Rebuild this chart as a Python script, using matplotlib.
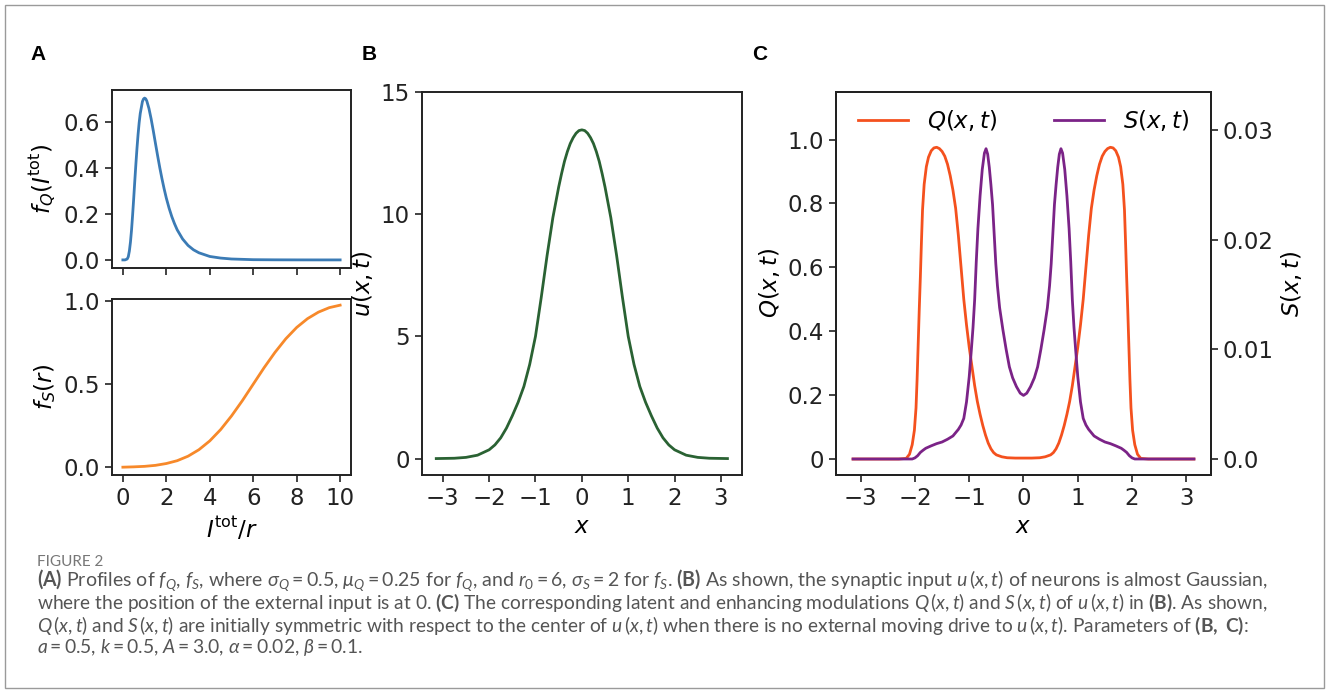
import numpy as np
import matplotlib.pyplot as plt
from matplotlib.patches import Rectangle

# ---- data ----
# (A) top: f_Q(I_tot)
fq_x = [0, 0.1, 0.2, 0.25, 0.3, 0.35, 0.4, 0.45, 0.5, 0.55, 0.6, 0.65, 0.7, 0.75, 0.8,
        0.9, 0.95, 1.0, 1.05, 1.1, 1.2, 1.3, 1.4, 1.5, 1.6, 1.7, 1.8, 1.9, 2.0, 2.125,
        2.25, 2.375, 2.5, 2.75, 3.0, 3.25, 3.5, 4.0, 4.5, 5.0, 6.0, 7.0, 8.0, 9.0, 10.0]
fq_y = [0.0, 0.0, 0.004, 0.014, 0.039, 0.078, 0.131, 0.197, 0.269, 0.345, 0.418, 0.486,
        0.546, 0.597, 0.637, 0.689, 0.700, 0.704, 0.701, 0.692, 0.659, 0.614, 0.562,
        0.507, 0.453, 0.401, 0.353, 0.309, 0.269, 0.226, 0.189, 0.158, 0.131, 0.091,
        0.063, 0.044, 0.031, 0.015, 0.008, 0.004, 0.001, 0.0004, 0.0001, 0.0, 0.0]

# (A) bottom: f_S(r)
fs_x = [0, 0.5, 1, 1.5, 2, 2.5, 3, 3.5, 4, 4.5, 5, 5.5, 6, 6.5, 7, 7.5, 8, 8.5, 9, 9.5, 10]
fs_y = [0.001, 0.003, 0.006, 0.012, 0.023, 0.040, 0.067, 0.106, 0.159, 0.227, 0.309,
        0.401, 0.500, 0.599, 0.691, 0.773, 0.841, 0.894, 0.933, 0.960, 0.975]

# (B) u(x, t)
u_x = [-3.14, -2.75, -2.5, -2.25, -2.0, -1.875, -1.75, -1.625, -1.5, -1.375, -1.25, -1.125,
       -1.0, -0.875, -0.75, -0.625, -0.5, -0.4375, -0.375, -0.3125, -0.25, -0.1875, -0.125,
       -0.0625, 0.0, 0.0625, 0.125, 0.1875, 0.25, 0.3125, 0.375, 0.4375, 0.5, 0.625, 0.75,
       0.875, 1.0, 1.125, 1.25, 1.375, 1.5, 1.625, 1.75, 1.875, 2.0, 2.25, 2.5, 2.75, 3.14]
u_y = [0.002, 0.015, 0.05, 0.14, 0.36, 0.56, 0.85, 1.25, 1.75, 2.3, 2.95, 3.85,
       5.0, 6.6, 8.3, 9.85, 11.1, 11.65, 12.15, 12.55, 12.88, 13.12, 13.3,
       13.41, 13.44, 13.41, 13.3, 13.12, 12.88, 12.55, 12.15, 11.65, 11.1, 9.85, 8.3,
       6.6, 5.0, 3.85, 2.95, 2.3, 1.75, 1.25, 0.85, 0.56, 0.36, 0.14, 0.05, 0.015, 0.002]

# (C) Q(x, t)
q_x = [-3.14, -2.6, -2.3, -2.16, -2.10, -2.05, -2.01, -1.98, -1.96, -1.94, -1.92, -1.90,
       -1.88, -1.86, -1.83, -1.79, -1.75, -1.70, -1.65, -1.60, -1.55, -1.50, -1.45, -1.40,
       -1.35, -1.30, -1.25, -1.20, -1.15, -1.10, -1.05, -1.00, -0.95, -0.90, -0.85, -0.80,
       -0.75, -0.70, -0.65, -0.60, -0.55, -0.50, -0.40, -0.30, -0.15, 0.0,
       0.15, 0.30, 0.40, 0.50, 0.55, 0.60, 0.65, 0.70, 0.75, 0.80, 0.85, 0.90, 0.95, 1.00,
       1.05, 1.10, 1.15, 1.20, 1.25, 1.30, 1.35, 1.40, 1.45, 1.50, 1.55, 1.60, 1.65, 1.70,
       1.75, 1.79, 1.83, 1.86, 1.88, 1.90, 1.92, 1.94, 1.96, 1.98, 2.01, 2.05, 2.10, 2.16,
       2.3, 2.6, 3.14]
q_y = [0.0, 0.0, 0.0, 0.002, 0.015, 0.045, 0.09, 0.16, 0.25, 0.36, 0.47, 0.57,
       0.68, 0.78, 0.86, 0.915, 0.945, 0.965, 0.974, 0.976, 0.972, 0.963, 0.948, 0.923,
       0.887, 0.842, 0.785, 0.70, 0.60, 0.50, 0.42, 0.35, 0.29, 0.23, 0.18, 0.14,
       0.105, 0.075, 0.05, 0.032, 0.02, 0.013, 0.007, 0.004, 0.003, 0.003,
       0.003, 0.004, 0.007, 0.013, 0.02, 0.032, 0.05, 0.075, 0.105, 0.14, 0.18, 0.23, 0.29, 0.35,
       0.42, 0.50, 0.60, 0.70, 0.785, 0.842, 0.887, 0.923, 0.948, 0.963, 0.972, 0.976, 0.974, 0.965,
       0.945, 0.915, 0.86, 0.78, 0.68, 0.57, 0.47, 0.36, 0.25, 0.16, 0.09, 0.045, 0.015, 0.002,
       0.0, 0.0, 0.0]

# (C) S(x, t)
s_x = [-3.14, -2.5, -2.05, -2.0, -1.95, -1.9, -1.85, -1.8, -1.7, -1.6, -1.5, -1.4, -1.3,
       -1.2, -1.15, -1.10, -1.05, -1.0, -0.96, -0.93, -0.90, -0.87, -0.84, -0.80, -0.76,
       -0.72, -0.69, -0.66, -0.63, -0.60, -0.57, -0.54, -0.51, -0.48, -0.44, -0.38, -0.32,
       -0.26, -0.20, -0.13, -0.06, 0.0,
       0.06, 0.13, 0.20, 0.26, 0.32, 0.38, 0.44, 0.48, 0.51, 0.54, 0.57, 0.60, 0.63, 0.66,
       0.69, 0.72, 0.76, 0.80, 0.84, 0.87, 0.90, 0.93, 0.96, 1.0, 1.05, 1.10, 1.15, 1.2,
       1.3, 1.4, 1.5, 1.6, 1.7, 1.8, 1.85, 1.9, 1.95, 2.0, 2.05, 2.5, 3.14]
s_y = [0.0, 0.0, 0.0, 0.0001, 0.0003, 0.0006, 0.0008, 0.00098, 0.0012, 0.0014, 0.00155,
       0.0018, 0.0021, 0.0027, 0.0031, 0.0037, 0.0052, 0.0075, 0.0100, 0.0120, 0.0145,
       0.0180, 0.0210, 0.0240, 0.0264, 0.0279, 0.0283, 0.0278, 0.0266, 0.0250, 0.0232,
       0.0205, 0.0178, 0.0158, 0.0138, 0.0118, 0.0100, 0.0084, 0.0074, 0.0066, 0.0060, 0.0058,
       0.0060, 0.0066, 0.0074, 0.0084, 0.0100, 0.0118, 0.0138, 0.0158, 0.0178, 0.0205, 0.0232,
       0.0250, 0.0266, 0.0278, 0.0283, 0.0279, 0.0264, 0.0240, 0.0210, 0.0180, 0.0145, 0.0120,
       0.0100, 0.0075, 0.0052, 0.0037, 0.0031, 0.0027, 0.0021, 0.0018, 0.00155, 0.0014, 0.0012,
       0.00098, 0.0008, 0.0006, 0.0003, 0.0001, 0.0, 0.0, 0.0]

x_ticks = [-3, -2, -1, 0, 1, 2, 3]
q_ticks = [0, 0.2, 0.4, 0.6, 0.8, 1.0]
q_ticklabels = ['0', '0.2', '0.4', '0.6', '0.8', '1.0']
s_ticks = [0, 0.01, 0.02, 0.03]
s_ticklabels = ['0.0', '0.01', '0.02', '0.03']

caption_lines = [
    r'$\mathbf{(A)}$ Profiles of $f_Q$, $f_S$, where $\sigma_Q = 0.5$, $\mu_Q = 0.25$ for $f_Q$, and $r_0 = 6$, $\sigma_S = 2$ for $f_S$. $\mathbf{(B)}$ As shown, the synaptic input $u\,(x, t)$ of neurons is almost Gaussian,',
    r'where the position of the external input is at 0. $\mathbf{(C)}$ The corresponding latent and enhancing modulations $Q\,(x, t)$ and $S\,(x, t)$ of $u\,(x, t)$ in $\mathbf{(B)}$. As shown,',
    r'$Q\,(x, t)$ and $S\,(x, t)$ are initially symmetric with respect to the center of $u\,(x, t)$ when there is no external moving drive to $u\,(x, t)$. Parameters of $\mathbf{(B,\ C)}$:',
    r'$a = 0.5$, $k = 0.5$, $A = 3.0$, $\alpha = 0.02$, $\beta = 0.1$.',
]
caption_y = [580.5, 603, 625.5, 648]
caption_w = [1230, 1230, 1212, None]   # line lengths, px (slightly under the reference)

# ---- style ----
plt.rcParams['font.family'] = ['DejaVu Sans']
plt.rcParams['mathtext.fontset'] = 'dejavusans'
plt.rcParams['mathtext.rm'] = 'Lato'
plt.rcParams['mathtext.it'] = 'Lato:italic'
plt.rcParams['mathtext.bf'] = 'Lato:bold'
plt.rcParams['axes.linewidth'] = 1.4
plt.rcParams['xtick.major.width'] = 1.2
plt.rcParams['ytick.major.width'] = 1.2
plt.rcParams['xtick.major.size'] = 5
plt.rcParams['ytick.major.size'] = 5
plt.rcParams['xtick.color'] = '#222222'
plt.rcParams['ytick.color'] = '#222222'
plt.rcParams['axes.edgecolor'] = '#222222'
FS = 16.5

W, H = 1328, 693
fig = plt.figure(figsize=(W / 100, H / 100), dpi=100)


def rect(l, t, r, b):
    return [l / W, 1 - b / H, (r - l) / W, (b - t) / H]


# panel A top
axq = fig.add_axes(rect(112, 90, 351, 268))
axq.plot(fq_x, fq_y, color='#3b7bb5', lw=2)
axq.set_xticks([0, 2, 4, 6, 8, 10])
axq.set_yticks([0.0, 0.2, 0.4, 0.6])
axq.tick_params(labelbottom=False, labelsize=FS)
axq.set_ylabel(r'$f_Q(I^{\rm tot})$', fontsize=FS)

# panel A bottom
axs = fig.add_axes(rect(112, 299, 351, 475))
axs.plot(fs_x, fs_y, color='#f7892a', lw=2)
axs.set_xticks([0, 2, 4, 6, 8, 10])
axs.set_yticks([0.0, 0.5, 1.0])
axs.set_ylim(-0.046, 1.012)
axs.tick_params(labelsize=FS)
axs.set_ylabel(r'$f_S(r)$', fontsize=FS)
axs.set_xlabel(r'$I^{\rm tot}/r$', fontsize=FS)

# panel B
axu = fig.add_axes(rect(421.7, 91.7, 742, 475))
axu.plot(u_x, u_y, color='#2a6233', lw=2)
axu.set_xticks(x_ticks)
axu.set_yticks([0, 5, 10, 15])
axu.set_ylim(-0.67, 15)
axu.tick_params(labelsize=FS)
axu.set_xlabel(r'$x$', fontsize=FS)
axu.set_ylabel(r'$u(x,t)$', fontsize=FS)

# panel C
axc = fig.add_axes(rect(836, 91.7, 1211, 475))
lq, = axc.plot(q_x, q_y, color='#f4511e', lw=2, label=r'$Q(x,t)$')
axc.set_xticks(x_ticks)
axc.set_yticks(q_ticks)
axc.set_yticklabels(q_ticklabels)
axc.set_ylim(-0.05, 1.15)
axc.tick_params(labelsize=FS)
axc.set_xlabel(r'$x$', fontsize=FS)
axc.set_ylabel(r'$Q(x,t)$', fontsize=FS)

axc2 = axc.twinx()
ls, = axc2.plot(s_x, s_y, color='#7b2387', lw=2, label=r'$S(x,t)$')
axc2.set_yticks(s_ticks)
axc2.set_yticklabels(s_ticklabels)
axc2.set_ylim(-0.00146, 0.0335)
axc2.tick_params(labelsize=FS)
axc2.set_ylabel(r'$S(x,t)$', fontsize=FS)
axc2.legend(handles=[lq, ls], loc='upper center', ncol=2, frameon=False,
            fontsize=FS, columnspacing=2.5, handlelength=2.2, handletextpad=0.8,
            borderaxespad=0.3)

# panel letters
for lab, px in [('A', 38), ('B', 369), ('C', 760)]:
    fig.text(px / W, 1 - 55 / H, lab, fontsize=15, fontweight='bold',
             family='Liberation Sans', ha='center', va='center')

# caption
fig.text(37 / W, 1 - 562 / H, 'FIGURE 2', fontsize=11, color='#777777',
         family='Lato', va='center')
texts = []
for s, yy in zip(caption_lines, caption_y):
    t = fig.text(37 / W, 1 - yy / H, s, fontsize=13, color='#555555', family='Lato',
                 va='center', math_fontfamily='custom')
    texts.append(t)
# fit each caption line to its length in the reference
r = fig.canvas.get_renderer()
sizes = []
for t, w in zip(texts, caption_w):
    if w is not None:
        sz = 13 * w / t.get_window_extent(r).width
        t.set_fontsize(sz)
        sizes.append(sz)
texts[-1].set_fontsize(np.mean(sizes))

# frame around the figure
fig.patches.append(Rectangle((5 / W, 1 - 688 / H), 1319 / W, 683 / H,
                             transform=fig.transFigure, fill=False,
                             edgecolor='#9a9a9a', lw=1))

fig.savefig('out.png', dpi=100)
